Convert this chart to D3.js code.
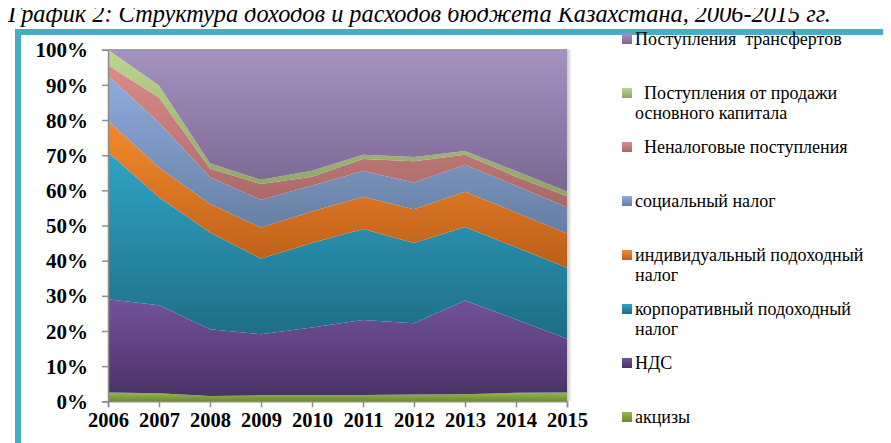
<svg width="891" height="443"></svg>

<script src="https://cdnjs.cloudflare.com/ajax/libs/d3/7.8.5/d3.min.js"></script>
<script>
	// 100% stacked area: budget revenue structure, Kazakhstan 2006-2015

	const years = [2006, 2007, 2008, 2009, 2010, 2011, 2012, 2013, 2014, 2015]

	// series, bottom to top of the stack (shares in %)
	const akcizy      = [2.5, 2.3, 1.5, 1.7, 1.7, 1.8, 1.9, 2.0, 2.4, 2.5]
	const nds         = [26.5, 25.0, 19.0, 17.4, 19.3, 21.3, 20.3, 26.7, 20.9, 15.3]
	const korp        = [41.8, 30.7, 27.5, 21.5, 24.0, 25.9, 22.8, 20.9, 20.5, 20.2]
	const indiv       = [9.0, 8.5, 8.1, 8.8, 9.0, 9.2, 9.6, 10.0, 9.9, 9.7]
	const social      = [12.8, 12.8, 7.6, 7.9, 7.3, 7.3, 7.6, 7.7, 7.6, 7.5]
	const nenalog     = [3.0, 7.1, 2.5, 4.5, 2.6, 3.4, 6.1, 2.8, 2.6, 3.1]
	const kapital     = [4.4, 3.4, 1.5, 1.2, 1.7, 1.2, 1.2, 1.1, 1.6, 1.4]
	const transferty  = [0.0, 10.2, 32.3, 37.0, 34.4, 29.9, 30.5, 28.8, 34.5, 40.3]

	const yTicks = [0, 0.1, 0.2, 0.3, 0.4, 0.5, 0.6, 0.7, 0.8, 0.9, 1]

	const series = [
		{key: "akcizy", values: akcizy, top: "#93b94a", bottom: "#6c8a30"},
		{key: "nds", values: nds, top: "#72529b", bottom: "#4a3265"},
		{key: "korp", values: korp, top: "#2fa4c6", bottom: "#1e6d84"},
		{key: "indiv", values: indiv, top: "#f38b2d", bottom: "#bd5f19"},
		{key: "social", values: social, top: "#8fabdd", bottom: "#657ea1"},
		{key: "nenalog", values: nenalog, top: "#da8c8a", bottom: "#a86868"},
		{key: "kapital", values: kapital, top: "#bbd78f", bottom: "#8fa267"},
		{key: "transferty", values: transferty, top: "#a592c1", bottom: "#7a6792"}
	]

	// legend, top to bottom (lines of text)
	const legendItems = [
		{key: "transferty", lines: ["Поступления\u00a0 трансфертов"]},
		{key: "kapital", lines: ["\u00a0 Поступления от продажи", "основного капитала"]},
		{key: "nenalog", lines: ["\u00a0 Неналоговые поступления"]},
		{key: "social", lines: ["социальный налог"]},
		{key: "indiv", lines: ["индивидуальный подоходный", "налог"]},
		{key: "korp", lines: ["корпоративный подоходный", "налог"]},
		{key: "nds", lines: ["НДС"]},
		{key: "akcizy", lines: ["акцизы"]}
	]

	const serif = "Liberation Serif"

	const table = years.map((year, i) => {
		const row = {year}
		series.forEach(s => row[s.key] = s.values[i])
		return row
	})

	const svg = d3.select("svg")
		.style("background", "#fff")

	const defs = svg.append("defs")
	series.forEach(s => {
		const g = defs.append("linearGradient")
			.attr("id", "grad-" + s.key)
			.attr("x1", 0).attr("y1", 0).attr("x2", 0).attr("y2", 1)
		g.append("stop").attr("offset", "0%").attr("stop-color", s.top)
		g.append("stop").attr("offset", "100%").attr("stop-color", s.bottom)
	})
	const shadow = defs.append("linearGradient")
		.attr("id", "shadow")
		.attr("x1", 0).attr("y1", 0).attr("x2", 1).attr("y2", 0)
	shadow.append("stop").attr("offset", "0%").attr("stop-color", "#c8c8c8")
	shadow.append("stop").attr("offset", "100%").attr("stop-color", "#ffffff")

	// title (its top is cut by the page edge, as in the original)
	svg.append("text")
		.attr("x", 0)
		.attr("y", 14)
		.style("font-family", serif)
		.style("font-style", "italic")
		.style("font-size", "24.3px")
		.attr("fill", "#000")
		.text("График 2: Структура доходов и расходов бюджета Казахстана, 2006-2015 гг.")

	// frame
	svg.append("rect")
		.attr("x", 10)
		.attr("y", 24)
		.attr("width", 877)
		.attr("height", 425)
		.attr("fill", "none")
		.attr("stroke", "#4bacc6")
		.attr("stroke-width", 6)

	const x = d3.scaleLinear().domain([2006, 2015]).range([100, 559])
	const y = d3.scaleLinear().domain([0, 1]).range([393.3, 41.7])

	const stack = d3.stack()
		.keys(series.map(s => s.key))
		.offset(d3.stackOffsetExpand)

	const area = d3.area()
		.x(d => x(d.data.year))
		.y0(d => y(d[0]))
		.y1(d => y(d[1]))

	// right shadow of plot area
	svg.append("rect")
		.attr("x", x(2015))
		.attr("y", y(1))
		.attr("width", 5)
		.attr("height", y(0) - y(1))
		.attr("fill", "url(#shadow)")

	svg.append("g")
		.selectAll("path")
		.data(stack(table))
		.join("path")
			.attr("fill", d => `url(#grad-${d.key})`)
			.attr("d", area)

	// top border of plot area
	svg.append("line")
		.attr("x1", x(2006)).attr("x2", x(2015))
		.attr("y1", y(1)).attr("y2", y(1))
		.attr("stroke", "#a0a0a0")
		.attr("stroke-width", 1.5)

	const yAxis = svg.append("g")
		.attr("transform", `translate(${x(2006)},0)`)
		.call(d3.axisLeft(y).tickValues(yTicks).tickFormat(d3.format(".0%")).tickSize(6).tickPadding(14))
	yAxis.selectAll("text")
		.style("font-family", serif)
		.style("font-weight", "bold")
		.style("font-size", "21px")
		.attr("fill", "#000")
		.attr("dy", "0.34em")

	const xAxis = svg.append("g")
		.attr("transform", `translate(0,${y(0)})`)
		.call(d3.axisBottom(x).tickValues(years).tickFormat(d3.format("d")).tickSize(6).tickPadding(5))
	xAxis.selectAll("text")
		.style("font-family", serif)
		.style("font-weight", "bold")
		.style("font-size", "20.5px")
		.attr("fill", "#000")

	svg.selectAll(".domain, .tick line")
		.attr("stroke", "#8c8c8c")
		.attr("stroke-width", 1.5)

	// legend
	const legend = svg.append("g")

	legendItems.forEach((item, i) => {
		const top = 26 + i * 54
		legend.append("rect")
			.attr("x", 614)
			.attr("y", top)
			.attr("width", 10)
			.attr("height", 10)
			.attr("fill", `url(#grad-${item.key})`)
		item.lines.forEach((line, j) => {
			legend.append("text")
				.attr("x", 627)
				.attr("y", top + 11 + j * 20)
				.style("font-family", serif)
				.style("font-size", "18px")
				.attr("fill", "#000")
				.text(line)
		})
	})
</script>
